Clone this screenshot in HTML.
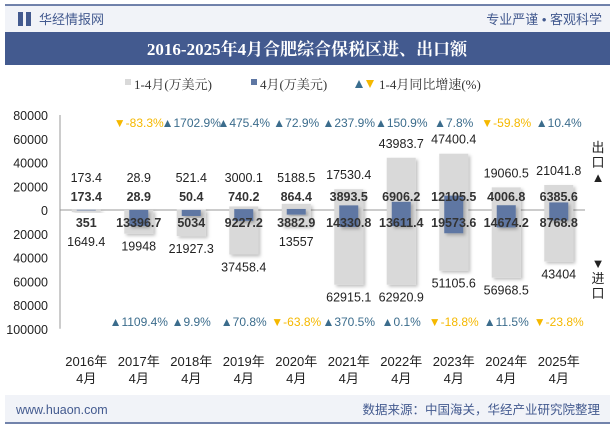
<!DOCTYPE html>
<html><head><meta charset="utf-8"><style>
body{margin:0;width:615px;height:427px;background:#fff;overflow:hidden;font-family:"Liberation Sans","Noto Sans CJK SC",sans-serif}
svg{position:absolute;left:0;top:0}
</style></head><body>
<svg width="615" height="427">
<defs><filter id="sh" x="-20%" y="-20%" width="150%" height="150%"><feDropShadow dx="2" dy="2" stdDeviation="1.5" flood-color="#000" flood-opacity="0.25"/></filter></defs>
<rect x="5" y="5" width="605" height="27" fill="#f1f3f8"/>
<line x1="5" y1="5" x2="610" y2="5" stroke="#435a8f" stroke-width="1.5"/>
<rect x="18" y="12" width="5" height="14" fill="#435a8f"/><rect x="26" y="12" width="5" height="14" fill="#435a8f"/>
<text x="39" y="24" font-size="13" fill="#435a8f">华经情报网</text>
<text x="602" y="24" font-size="13" fill="#435a8f" text-anchor="end">专业严谨 • 客观科学</text>
<rect x="5" y="32" width="605" height="33" fill="#435a8f"/>
<text x="307" y="55" font-size="17" font-weight="bold" fill="#fff" text-anchor="middle" font-family="Liberation Serif,Noto Serif CJK SC,serif">2016-2025年4月合肥综合保税区进、出口额</text>
<g font-size="13" fill="#333" font-family="Liberation Serif,Noto Serif CJK SC,serif">
<rect x="125" y="79" width="6" height="6" fill="#d9d9d9"/><text x="134" y="89">1-4月(万美元)</text>
<rect x="251" y="79" width="6" height="6" fill="#5e77a3"/><text x="260" y="89">4月(万美元)</text>
<path d="M355 88 L359 80 L363 88Z" fill="#3a6e8f"/><path d="M366 80 L374 80 L370 88Z" fill="#f5b800"/><text x="379" y="89">1-4月同比增速(%)</text>
</g>
<g id="plot"></g>
<text x="600" y="152" font-size="13" fill="#222" text-anchor="middle"><tspan x="598" dy="0">出</tspan><tspan x="598" dy="15">口</tspan><tspan x="598" dy="15">▲</tspan></text>
<text x="598" y="268" font-size="13" fill="#222" text-anchor="middle"><tspan x="598" dy="0">▼</tspan><tspan x="598" dy="15">进</tspan><tspan x="598" dy="15">口</tspan></text>
<rect x="5" y="395" width="605" height="27" fill="#f1f3f8"/>
<line x1="5" y1="423" x2="610" y2="423" stroke="#435a8f" stroke-width="1.5"/>
<text x="16" y="414" font-size="12.5" fill="#435a8f">www.huaon.com</text>
<text x="600" y="414" font-size="12.5" fill="#435a8f" text-anchor="end">数据来源：中国海关，华经产业研究院整理</text>
</svg>
<script>
const years=["2016","2017","2018","2019","2020","2021","2022","2023","2024","2025"];
const expYtd=[173.4,28.9,521.4,3000.1,5188.5,17530.4,43983.7,47400.4,19060.5,21041.8];
const expMon=[173.4,28.9,50.4,740.2,864.4,3893.5,6906.2,12105.5,4006.8,6385.6];
const impYtd=[1649.4,19948,21927.3,37458.4,13557,62915.1,62920.9,51105.6,56968.5,43404];
const impMon=[351,13396.7,5034,9227.2,3882.9,14330.8,13611.4,19573.6,14674.2,8768.8];
const expGrowth=[null,-83.3,1702.9,475.4,72.9,237.9,150.9,7.8,-59.8,10.4];
const impGrowth=[null,1109.4,9.9,70.8,-63.8,370.5,0.1,-18.8,11.5,-23.8];
const yTicks=[80000,60000,40000,20000,0,-20000,-40000,-60000,-80000,-100000];
const NS="http://www.w3.org/2000/svg",g=document.getElementById("plot");
const x0=60,x1=585,bw=(x1-x0)/years.length;
const y=v=>210-v*95/80000;
const cx=i=>x0+bw*(i+0.5);
function el(t,a,txt){const e=document.createElementNS(NS,t);for(const k in a)e.setAttribute(k,a[k]);if(txt!=null)e.textContent=txt;g.appendChild(e);return e;}
yTicks.forEach(t=>{const e=el("text",{x:48,y:y(t)+5,"font-size":12.5,fill:"#222","text-anchor":"end"},String(Math.abs(t)));

});
const ax=el("line",{x1:x0,y1:y(80000),x2:x0,y2:y(-100000),stroke:"#999"});


const zl=el("line",{x1:x0,y1:210,x2:x1,y2:210,stroke:"#999"});


const fmt=v=>String(v);
years.forEach((yr,i)=>{
 const c=cx(i);
 const r1=el("rect",{x:c-14.5,y:y(expYtd[i]),width:29,height:y(-impYtd[i])-y(expYtd[i]),fill:"#d9d9d9",filter:"url(#sh)"});
 
 
 const r2=el("rect",{x:c-9.5,y:y(expMon[i]),width:19,height:y(-impMon[i])-y(expMon[i]),fill:"#5e77a3",filter:"url(#sh)"});
 
 
 const t1=el("text",{x:c,y:Math.min(182,y(expYtd[i])-10),"font-size":12.5,fill:"#222","text-anchor":"middle"},fmt(expYtd[i]));
 
 
 const t2=el("text",{x:c,y:201,"font-size":12.5,"font-weight":"bold",fill:"#333","text-anchor":"middle"},fmt(expMon[i]));
 
 
 const t3=el("text",{x:c,y:227,"font-size":12.5,"font-weight":"bold",fill:"#333","text-anchor":"middle"},fmt(impMon[i]));
 
 
 const t4=el("text",{x:c,y:Math.max(246,y(-impYtd[i])+17),"font-size":12.5,fill:"#222","text-anchor":"middle"},fmt(impYtd[i]));
 
 
 [[expGrowth[i],127,'export-growth'],[impGrowth[i],326,'import-growth']].forEach(([v,yy,nm])=>{
  if(v==null)return;
  const up=v>=0,tc=up?"#3b6c8c":"#f5b800";
  const s=(up?"▲":"▼")+v.toFixed(1)+"%";
  const t=el("text",{x:c,y:yy,"font-size":12,fill:tc,"text-anchor":"middle"},s);
  
  
 });
 const xl=el("text",{x:c,y:366,"font-size":13,fill:"#222","text-anchor":"middle"},yr+"年");
 
 
 const xl2=el("text",{x:c,y:383,"font-size":13,fill:"#222","text-anchor":"middle"},"4月");
 
 
});
</script>
</body></html>
